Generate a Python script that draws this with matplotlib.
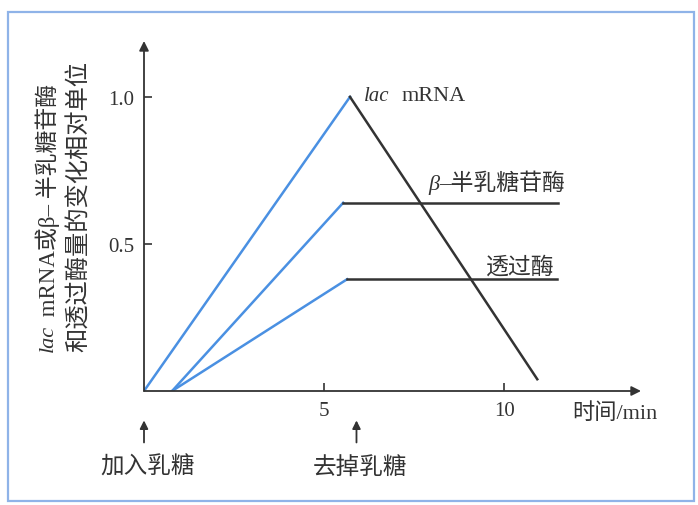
import matplotlib
matplotlib.use("Agg")
import matplotlib.pyplot as plt
from matplotlib.patches import Rectangle

plt.rcParams['font.family'] = ['Noto Sans CJK SC', 'DejaVu Sans']

# data (time in min, relative units)
mrna_t = [0.0, 5.72]
mrna_y = [0.0, 1.0]
mrna_decay_t = [5.72, 10.92]
mrna_decay_y = [1.0, 0.04]

gal_t = [0.78, 5.53]
gal_y = [0.0, 0.64]
gal_flat_t = [5.53, 11.5]
gal_flat_y = [0.64, 0.64]

perm_t = [0.78, 5.64]
perm_y = [0.0, 0.38]
perm_flat_t = [5.64, 11.47]
perm_flat_y = [0.38, 0.38]

xticks = [5, 10]
yticks = [0.5, 1.0]
ytick_labels = ["0.5", "1.0"]

add_t = 0.0
remove_t = 5.9

blue = "#4a90e2"
dark = "#333333"
serif = "Liberation Serif"
mixed = [serif, "Noto Sans CJK SC"]

fig = plt.figure(figsize=(6.98, 5.06), dpi=100)
fig.patch.set_facecolor("white")
fig.patches.append(Rectangle((8 / 698, 4 / 506), 686 / 698, 489 / 506,
                             transform=fig.transFigure, fill=False,
                             edgecolor="#8fb3e8", linewidth=1.6))

ax = fig.add_axes([144 / 698, 114 / 506, 497 / 698, 350 / 506])
ax.set_xlim(0, 13.8)
ax.set_ylim(0, 1.19)
for s in ax.spines.values():
    s.set_visible(False)

# axes with arrow heads
ax.annotate("", xy=(13.8, 0), xytext=(0, 0),
            arrowprops=dict(arrowstyle="-|>", color=dark, lw=1.3,
                            mutation_scale=14, shrinkA=0, shrinkB=0),
            annotation_clip=False)
ax.annotate("", xy=(0, 1.19), xytext=(0, 0),
            arrowprops=dict(arrowstyle="-|>", color=dark, lw=1.3,
                            mutation_scale=14, shrinkA=0, shrinkB=0),
            annotation_clip=False)

ax.plot(mrna_t, mrna_y, color=blue, lw=1.8)
ax.plot(gal_t, gal_y, color=blue, lw=1.8)
ax.plot(perm_t, perm_y, color=blue, lw=1.8)
ax.plot(mrna_decay_t, mrna_decay_y, color=dark, lw=1.8)
ax.plot(gal_flat_t, gal_flat_y, color=dark, lw=1.8)
ax.plot(perm_flat_t, perm_flat_y, color=dark, lw=1.8)

ax.set_xticks(xticks)
ax.set_xticklabels([str(v) for v in xticks], fontfamily=serif, fontsize=15, color=dark)
ax.set_yticks(yticks)
ax.set_yticklabels(ytick_labels, fontfamily=serif, fontsize=15, color=dark)
ax.tick_params(axis="both", direction="in", length=6, width=1.2, color=dark, pad=7)

# curve labels
ax.text(6.1, 1.005, "lac", fontfamily=serif, style="italic", fontsize=15,
        color=dark, va="center", ha="left")
ax.text(7.15, 1.005, "mRNA", fontfamily=serif, fontsize=16, color=dark,
        va="center", ha="left")
ax.text(8.2, 0.705, "β", fontfamily=serif, style="italic", fontsize=16,
        color=dark, va="center", ha="right")
ax.text(8.2, 0.705, "–半乳糖苷酶", fontfamily=mixed, fontsize=16.5, color=dark,
        va="center", ha="left")
ax.text(9.5, 0.425, "透过酶", fontsize=16.5, color=dark, va="center", ha="left")

ax.text(11.9, -0.075, "时间/min", fontfamily=mixed, fontsize=16, color=dark,
        va="center", ha="left")

# lactose add/remove markers
for t, lab in [(add_t, "加入乳糖"), (remove_t, "去掉乳糖")]:
    ax.annotate("", xy=(t, -0.1), xytext=(t, -0.175),
                arrowprops=dict(arrowstyle="-|>", color=dark, lw=1.3,
                                mutation_scale=12, shrinkA=0, shrinkB=0),
                annotation_clip=False)
    ax.text(t + 0.1, -0.255, lab, fontsize=17, color=dark, va="center", ha="center")

# y label, two rotated lines
fig.text(48 / 698, 1 - 352 / 506, "lac", fontfamily=serif, style="italic",
         fontsize=16, color=dark, rotation=90, ha="center", va="bottom")
fig.text(48 / 698, 1 - 322 / 506, " mRNA或β– 半乳糖苷酶", fontfamily=mixed,
         fontsize=16.5, color=dark, rotation=90, ha="center", va="bottom")
fig.text(79 / 698, 1 - 352 / 506, "和透过酶量的变化相对单位", fontsize=17.5,
         color=dark, rotation=90, ha="center", va="bottom")

fig.savefig("out.png", dpi=100)
